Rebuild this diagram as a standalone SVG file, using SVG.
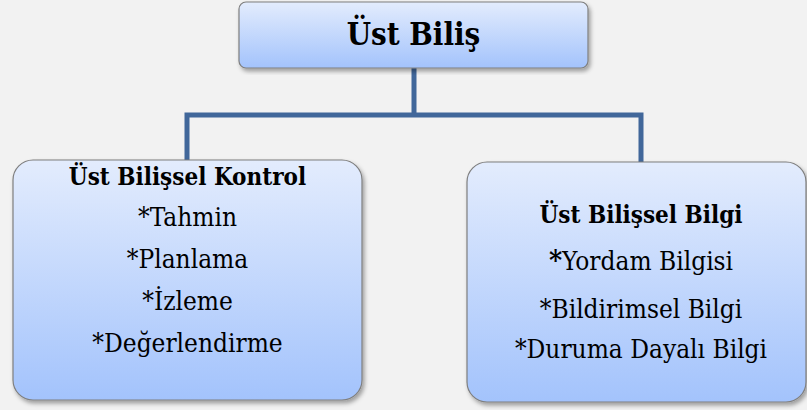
<svg xmlns="http://www.w3.org/2000/svg" width="807" height="410" viewBox="0 0 807 410">
  <defs>
    <linearGradient id="boxGrad" x1="0" y1="0" x2="0" y2="1">
      <stop offset="0" stop-color="#e3ecfd"/>
      <stop offset="1" stop-color="#a3c3fc"/>
    </linearGradient>
    <filter id="shadow" x="-5%" y="-5%" width="112%" height="115%">
      <feDropShadow dx="2" dy="3" stdDeviation="2" flood-color="#000" flood-opacity="0.35"/>
    </filter>
  </defs>
  <style>
    .box { fill: url(#boxGrad); stroke: #7f7f7f; stroke-width: 1.2; filter: url(#shadow); }
    .conn { fill: none; stroke: #41679a; stroke-width: 5; stroke-linejoin: miter; }
    .t { font-family: 'DejaVu Serif Condensed', 'DejaVu Serif', serif; fill: #000; text-anchor: middle; font-size: 26px; }
    .b { font-weight: bold; font-size: 24px; }
    .title { font-size: 31px; font-weight: bold; }
  </style>
  <rect x="0" y="0" width="807" height="410" fill="#f2f2f2"/>

  <g id="connectors">
    <path class="conn" d="M414,68 V115"/>
    <path class="conn" d="M187,160 V115 H641 V162"/>
  </g>

  <g id="node-ust-bilis">
    <rect class="box" x="239" y="2" width="349" height="66" rx="7" ry="7"/>
    <text class="t title" x="413.5" y="45">Üst Biliş</text>
  </g>

  <g id="node-kontrol">
    <rect class="box" x="13" y="160" width="349" height="240" rx="20" ry="20"/>
    <text class="t b" x="187.5" y="185">Üst Bilişsel Kontrol</text>
    <text class="t" x="187.5" y="226">*Tahmin</text>
    <text class="t" x="187.5" y="268">*Planlama</text>
    <text class="t" x="187.5" y="310">*İzleme</text>
    <text class="t" x="187.5" y="352">*Değerlendirme</text>
  </g>

  <g id="node-bilgi">
    <rect class="box" x="467" y="162" width="339" height="240" rx="20" ry="20"/>
    <text class="t b" x="641" y="223">Üst Bilişsel Bilgi</text>
    <text class="t" x="641" y="270"><tspan font-weight="bold" font-size="28">*</tspan>Yordam Bilgisi</text>
    <text class="t" x="641" y="318">*Bildirimsel Bilgi</text>
    <text class="t" x="641" y="358">*Duruma Dayalı Bilgi</text>
  </g>
</svg>
